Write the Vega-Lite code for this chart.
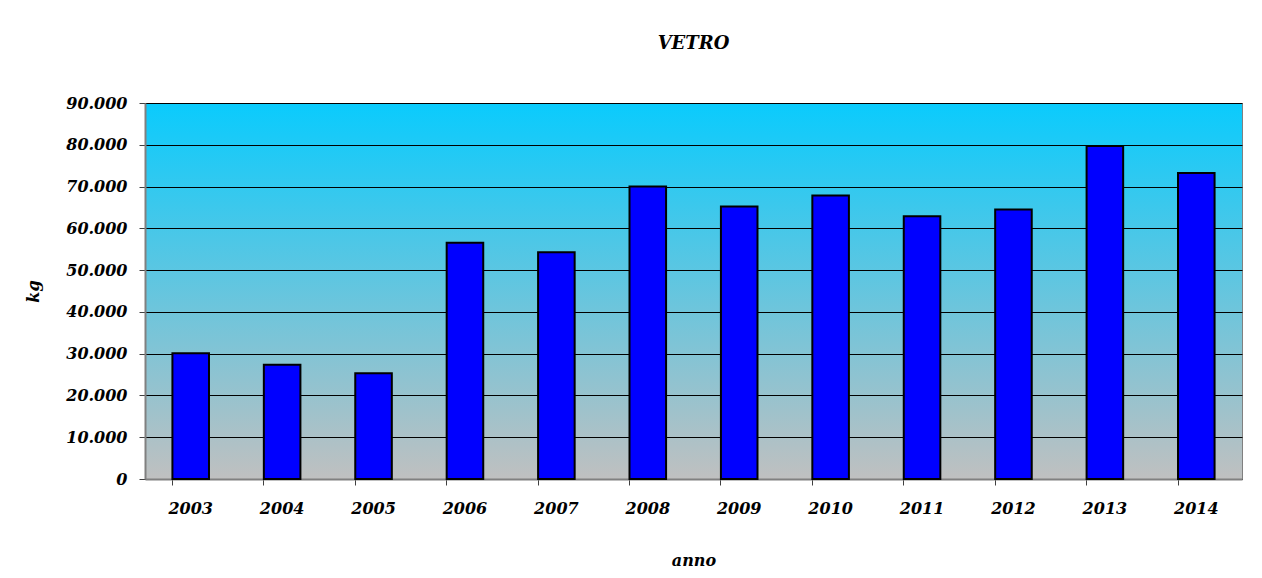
{
  "$schema": "https://vega.github.io/schema/vega-lite/v6.json",
  "width": 1097,
  "height": 376,
  "autosize": "none",
  "padding": {"left": 145, "top": 103, "right": 20, "bottom": 99},
  "background": "white",
  "title": {
    "text": "VETRO",
    "font": "DejaVu Serif",
    "fontSize": 18,
    "fontStyle": "italic",
    "fontWeight": "bold",
    "color": "black",
    "anchor": "middle",
    "offset": 42
  },
  "config": {
    "view": {
      "stroke": "#808080",
      "strokeWidth": 1,
      "fill": {
        "gradient": "linear",
        "x1": 0, "y1": 0, "x2": 0, "y2": 1,
        "stops": [
          {"offset": 0, "color": "#0ACBFD"},
          {"offset": 1, "color": "#C0C0C0"}
        ]
      }
    },
    "axis": {
      "labelFont": "DejaVu Serif",
      "labelFontSize": 16,
      "labelFontStyle": "italic",
      "labelFontWeight": "bold",
      "labelColor": "black",
      "titleFont": "DejaVu Serif",
      "titleFontSize": 16,
      "titleFontStyle": "italic",
      "titleFontWeight": "bold",
      "titleColor": "black",
      "domainColor": "#808080",
      "domainWidth": 2,
      "tickColor": "#404040",
      "tickSize": 6
    }
  },
  "data": {
    "values": [
      {"anno": "2003", "kg": 30100},
      {"anno": "2004", "kg": 27350},
      {"anno": "2005", "kg": 25300},
      {"anno": "2006", "kg": 56550},
      {"anno": "2007", "kg": 54250},
      {"anno": "2008", "kg": 70000},
      {"anno": "2009", "kg": 65250},
      {"anno": "2010", "kg": 67850},
      {"anno": "2011", "kg": 62900},
      {"anno": "2012", "kg": 64500},
      {"anno": "2013", "kg": 79700},
      {"anno": "2014", "kg": 73250}
    ]
  },
  "mark": {"type": "bar", "color": "#0000FF", "stroke": "black", "strokeWidth": 2},
  "encoding": {
    "x": {
      "field": "anno",
      "type": "ordinal",
      "scale": {"paddingInner": 0.6, "paddingOuter": 0.3},
      "axis": {
        "title": "anno",
        "labelAngle": 0,
        "labelPadding": 15,
        "bandPosition": 0,
        "grid": false,
        "titlePadding": 36
      }
    },
    "y": {
      "field": "kg",
      "type": "quantitative",
      "scale": {"domain": [0, 90000], "nice": false},
      "axis": {
        "title": "kg",
        "values": [0, 10000, 20000, 30000, 40000, 50000, 60000, 70000, 80000, 90000],
        "labelExpr": "replace(format(datum.value, ',d'), ',', '.')",
        "labelPadding": 12,
        "grid": true,
        "gridColor": "black",
        "gridWidth": 1,
        "titlePadding": 24
      }
    }
  }
}
